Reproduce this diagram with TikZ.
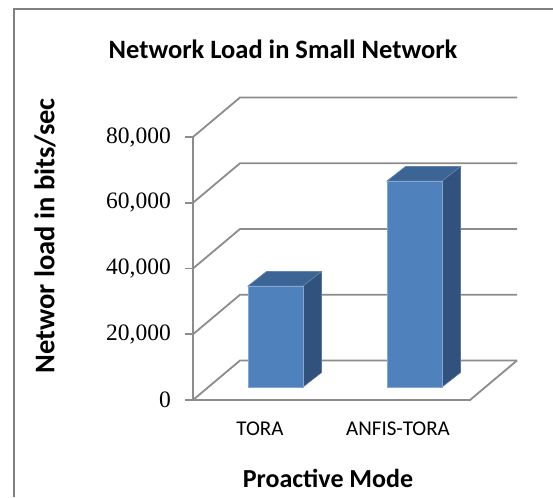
\documentclass[tikz,border=0pt]{standalone}
\usepackage{fontspec}
\setmainfont{Carlito}
\newfontfamily\numfont{Liberation Serif}
\begin{document}
\begin{tikzpicture}[x=1pt,y=-1pt,
  grid/.style={draw=gridgray,line width=1.8pt},
  frame/.style={draw=framegray,line width=2pt},
  frontface/.style={fill=barfront,draw=barfront!70!white,line width=0.6pt},
  topface/.style={fill=bartop,draw=bartop!80!white,line width=0.6pt},
  sideface/.style={fill=barside,draw=barside!80!white,line width=0.6pt},
  ticklabel/.style={anchor=east,inner sep=0pt,font=\numfont\fontsize{23.5}{26}\selectfont},
  catlabel/.style={inner sep=0pt,font=\fontsize{21}{23}\selectfont},
  axtitle/.style={inner sep=0pt,font=\bfseries\fontsize{26}{29}\selectfont}]
\definecolor{gridgray}{HTML}{8C8C8C}
\definecolor{framegray}{HTML}{808080}
\definecolor{barfront}{HTML}{4F81BD}
\definecolor{bartop}{HTML}{3C6494}
\definecolor{barside}{HTML}{31527D}
\useasboundingbox[fill=white] (0,0) rectangle (553,497);

% chart frame
\draw[frame] (13.5,497) -- (13.5,9) -- (553,9);

% title
\node[inner sep=0pt,font=\bfseries\fontsize{26.5}{30}\selectfont] (title) at (283,49) {Network Load in Small Network};

% walls and gridlines
\foreach \v/\y in {0/400,1/334.25,2/268.5,3/202.75,4/137}{
  \coordinate (f\v) at (193,\y);
  \coordinate (b\v) at (240,\y-39.5);
  \draw[grid] (f\v) -- (b\v) -- (517,\y-39.5);
  \draw[grid] (185,\y) -- (f\v);
}
\draw[grid] (f4) -- (f0);
\coordinate (fr) at (470,400);
\draw[grid] (f0) -- (fr) -- (517,360.5);

% tick labels
\node[ticklabel] (t0) at (171,400) {0};
\node[ticklabel] (t1) at (171,334.25) {20,000};
\node[ticklabel] (t2) at (171,268.5) {40,000};
\node[ticklabel] (t3) at (171,202.75) {60,000};
\node[ticklabel] (t4) at (171,137) {80,000};

% bars: front face, top face, side face
\foreach \xl/\xr/\yt in {248/303/286,387/442/181}{
  \fill[sideface] (\xr,387) -- (\xr+18.5,372.5) -- (\xr+18.5,\yt-14.5) -- (\xr,\yt) -- cycle;
  \fill[topface] (\xl,\yt) -- (\xl+18.5,\yt-14.5) -- (\xr+18.5,\yt-14.5) -- (\xr,\yt) -- cycle;
  \fill[frontface] (\xl,\yt) rectangle (\xr,387);
}

% category labels
\node[catlabel] (c1) at (260,429) {TORA};
\node[catlabel] (c2) at (398,429) {ANFIS-TORA};

% axis titles
\node[axtitle] (xt) at (328,478) {Proactive Mode};
\node[axtitle,rotate=90,font=\bfseries\fontsize{28.5}{31}\selectfont] (yt) at (45,236) {Networ load in bits/sec};
\end{tikzpicture}
\end{document}
